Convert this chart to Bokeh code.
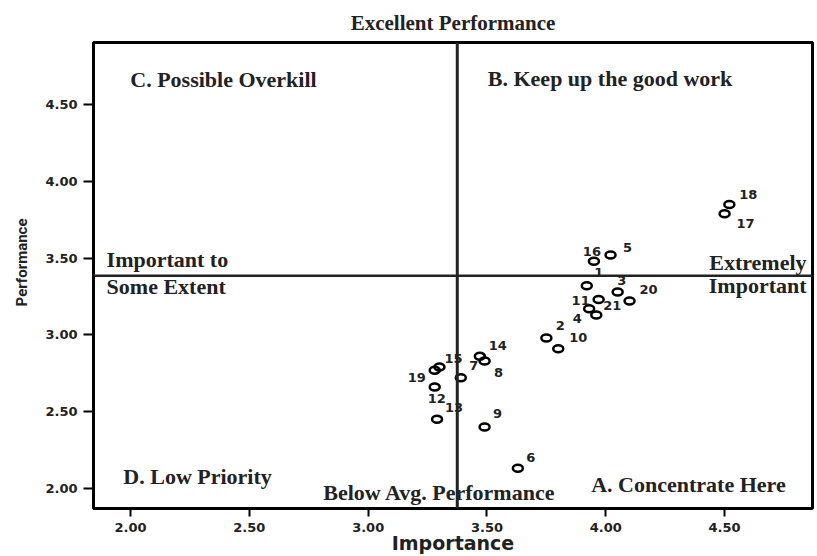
from bokeh.plotting import figure
from bokeh.models import Range1d, Span, Label, FixedTicker, PrintfTickFormatter, ColumnDataSource
from bokeh.core.properties import value
from bokeh.embed import file_html
from bokeh.resources import INLINE

# ---- data ----
item_ids = ["1", "2", "3", "4", "5", "6", "7", "8", "9", "10", "11",
            "12", "13", "14", "15", "16", "17", "18", "19", "20", "21"]
importance = [3.92, 3.75, 4.05, 3.93, 4.02, 3.63, 3.39, 3.49, 3.49, 3.80, 3.97,
              3.28, 3.29, 3.47, 3.30, 3.95, 4.50, 4.52, 3.28, 4.10, 3.96]
performance = [3.32, 2.98, 3.28, 3.17, 3.52, 2.13, 2.72, 2.83, 2.40, 2.91, 3.23,
               2.66, 2.45, 2.86, 2.79, 3.48, 3.79, 3.85, 2.77, 3.22, 3.13]
mean_importance = 3.375
mean_performance = 3.385
x_ticks = [2.0, 2.5, 3.0, 3.5, 4.0, 4.5]
y_ticks = [2.0, 2.5, 3.0, 3.5, 4.0, 4.5]

# label placement offsets in screen pixels (style only)
lab_dx = [12, 14, 4, -12, 17, 13, 13, 14, 13, 20, -18, 2, 17, 18, 14, -2, 21, 19, -18, 19, 16]
lab_dy = [-13, -12, -11, 10, -8, -11, -12, 12, -13, -11, 1, 11, -12, -11, -9, -10, 10, -10, 7, -12, -9]

src = ColumnDataSource(dict(x=importance, y=performance, t=item_ids, dx=lab_dx, dy=lab_dy))

p = figure(width=817, height=556, output_backend="svg", toolbar_location=None,
           x_range=Range1d(1.844, 4.87), y_range=Range1d(1.868, 4.906),
           min_border_left=93, min_border_right=5, min_border_top=42, min_border_bottom=48)

p.background_fill_color = "white"
p.border_fill_color = "white"
p.outline_line_color = "black"
p.outline_line_width = 3
p.xgrid.visible = False
p.ygrid.visible = False

p.title.text = "Excellent Performance"
p.title.align = "center"
p.title.text_font = "Liberation Serif"
p.title.text_font_style = "bold"
p.title.text_font_size = "21px"
p.title.text_color = "#222222"
p.title.standoff = 16

for ax in (p.xaxis[0], p.yaxis[0]):
    ax.axis_line_color = None
    ax.major_tick_line_color = "black"
    ax.major_tick_line_width = 2
    ax.major_tick_in = 0
    ax.minor_tick_line_color = None
    ax.major_label_text_font = "DejaVu Sans"
    ax.major_label_text_font_style = "bold"
    ax.major_label_text_font_size = "13px"
    ax.major_label_text_color = "#222222"
    ax.formatter = PrintfTickFormatter(format="%.2f")

p.xaxis[0].ticker = FixedTicker(ticks=x_ticks)
p.yaxis[0].ticker = FixedTicker(ticks=y_ticks)
p.xaxis[0].major_tick_out = 8
p.yaxis[0].major_tick_out = 10
p.xaxis[0].major_label_standoff = 6
p.yaxis[0].major_label_standoff = 6

p.xaxis[0].axis_label = "Importance"
p.xaxis[0].axis_label_text_font = "DejaVu Sans"
p.xaxis[0].axis_label_text_font_style = "bold"
p.xaxis[0].axis_label_text_font_size = "19px"
p.xaxis[0].axis_label_standoff = -3
p.xaxis[0].axis_label_text_color = "#222222"

p.yaxis[0].axis_label = "\u00a0" * 7 + "Performance"
p.yaxis[0].axis_label_text_font = "Roboto"
p.yaxis[0].axis_label_text_font_style = "bold"
p.yaxis[0].axis_label_text_font_size = "15px"
p.yaxis[0].axis_label_standoff = 11
p.yaxis[0].axis_label_text_color = "#222222"

p.add_layout(Span(location=mean_importance, dimension="height", line_color="#222222", line_width=3))
p.add_layout(Span(location=mean_performance, dimension="width", line_color="#222222", line_width=2.5))

p.ellipse(x="x", y="y", width=10, height=7, width_units="screen", height_units="screen",
          fill_color=None, line_color="black", line_width=2.5, source=src)
p.text(x="x", y="y", text="t", x_offset="dx", y_offset="dy", source=src,
       text_align="center", text_baseline="middle", text_font=value("DejaVu Sans"),
       text_font_style="bold", text_font_size="13px", text_color="#222222")

serif = dict(text_font="Liberation Serif", text_font_style="bold", text_font_size="22px",
             text_color="#222222", text_baseline="middle")

p.add_layout(Label(x=2.391, y=4.665, text="C. Possible Overkill", text_align="center", **serif))
p.add_layout(Label(x=4.018, y=4.669, text="B. Keep up the good work", text_align="center", **serif))
p.add_layout(Label(x=1.899, y=3.49, text="Important to", text_align="left", **serif))
p.add_layout(Label(x=1.899, y=3.315, text="Some Extent", text_align="left", **serif))
p.add_layout(Label(x=4.845, y=3.475, text="Extremely", text_align="right", **serif))
p.add_layout(Label(x=4.845, y=3.325, text="Important", text_align="right", **serif))
p.add_layout(Label(x=2.282, y=2.076, text="D. Low Priority", text_align="center", **serif))
p.add_layout(Label(x=3.300, y=1.972, text="Below Avg. Performance", text_align="center", **serif))
p.add_layout(Label(x=4.348, y=2.024, text="A. Concentrate Here", text_align="center", **serif))

open("out.html", "w").write(file_html(p, INLINE))
